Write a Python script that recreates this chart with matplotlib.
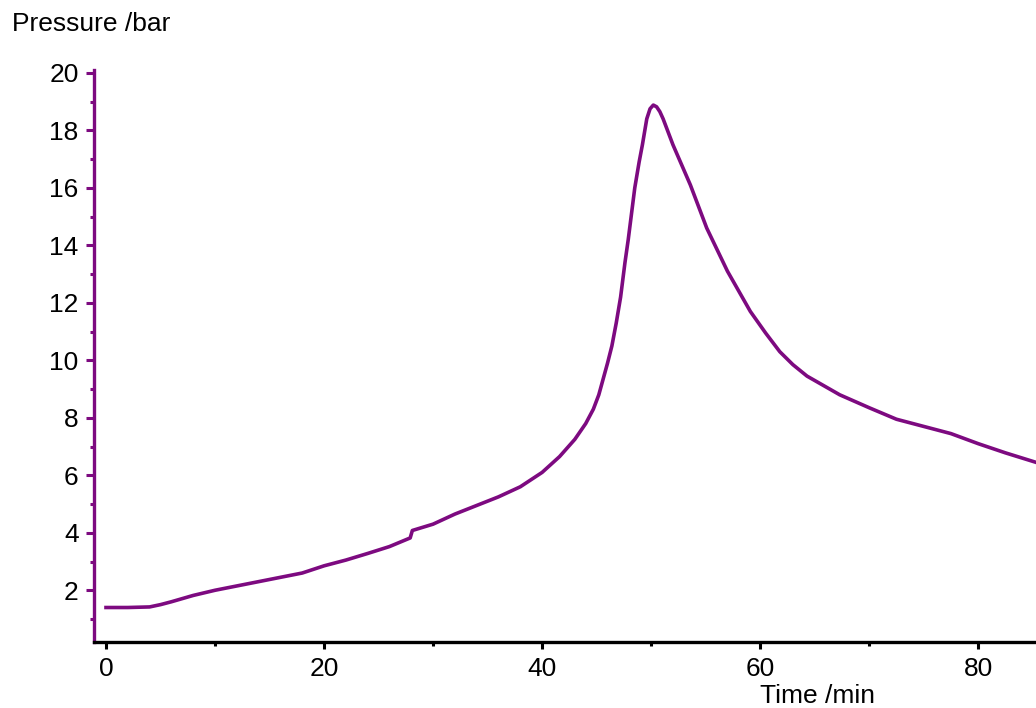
import matplotlib.pyplot as plt
from matplotlib.ticker import MultipleLocator

plt.rcParams['font.family'] = ['Liberation Sans', 'DejaVu Sans']

# pressure curve
time_min = [0, 2, 4, 5, 6, 8, 10, 12, 14, 16, 18, 20, 22, 24, 26, 27.9, 28.1,
            30, 32, 35, 36, 38, 40, 41.6, 43.0, 44.0, 44.7, 45.2, 45.6, 46.0,
            46.4, 46.8, 47.2, 47.6, 47.9, 48.5, 48.9, 49.2, 49.6, 49.9, 50.2,
            50.5, 50.8, 51.1, 51.5, 52.0, 52.8, 53.6, 55.1, 57.0, 59.1, 60.5,
            61.8, 63.0, 64.3, 67.3, 70, 72.5, 75, 77.5, 80, 82.5, 85.3]
pressure_bar = [1.4, 1.4, 1.42, 1.5, 1.6, 1.82, 2.0, 2.15, 2.3, 2.45, 2.6, 2.85,
                3.05, 3.28, 3.52, 3.82, 4.08, 4.3, 4.65, 5.1, 5.25, 5.6, 6.1,
                6.65, 7.25, 7.8, 8.3, 8.8, 9.35, 9.9, 10.5, 11.3, 12.2, 13.4,
                14.2, 16.0, 16.9, 17.5, 18.4, 18.75, 18.88, 18.82, 18.65, 18.4,
                18.0, 17.5, 16.8, 16.1, 14.6, 13.1, 11.7, 10.95, 10.3, 9.85,
                9.45, 8.8, 8.35, 7.95, 7.7, 7.45, 7.1, 6.78, 6.45]

purple = '#7d0a80'

fig = plt.figure(figsize=(10.36, 7.08), dpi=100)
ax = fig.add_axes([94 / 1036, 1 - 642 / 708, 1 - 94 / 1036, (642 - 70) / 708])

ax.plot(time_min, pressure_bar, color=purple, lw=2.6, clip_on=False,
        solid_joinstyle='round')

ax.set_xlim(-1.1, 85.3)
ax.set_ylim(0.2, 20.1)

ax.spines['top'].set_visible(False)
ax.spines['right'].set_visible(False)
ax.spines['left'].set_color(purple)
ax.spines['left'].set_linewidth(2.4)
ax.spines['bottom'].set_color('black')
ax.spines['bottom'].set_linewidth(2.4)

ax.xaxis.set_major_locator(MultipleLocator(20))
ax.xaxis.set_minor_locator(MultipleLocator(10))
ax.yaxis.set_minor_locator(MultipleLocator(1))
ax.set_yticks(range(2, 21, 2))

ax.tick_params(axis='x', which='major', length=5, width=2.2, color='black',
               labelsize=19, pad=6)
ax.tick_params(axis='x', which='minor', length=3, width=2.2, color='black')
ax.tick_params(axis='y', which='major', length=6, width=2.2, color=purple,
               labelsize=19, pad=5)
ax.tick_params(axis='y', which='minor', length=3, width=2.2, color=purple)

fig.text(12 / 1036, 1 - 31 / 708, 'Pressure /bar', fontsize=19, ha='left',
         va='baseline')
fig.text(817 / 1036, 1 - 703 / 708, 'Time /min', fontsize=19, ha='center',
         va='baseline')

fig.savefig('out.png', dpi=100)
